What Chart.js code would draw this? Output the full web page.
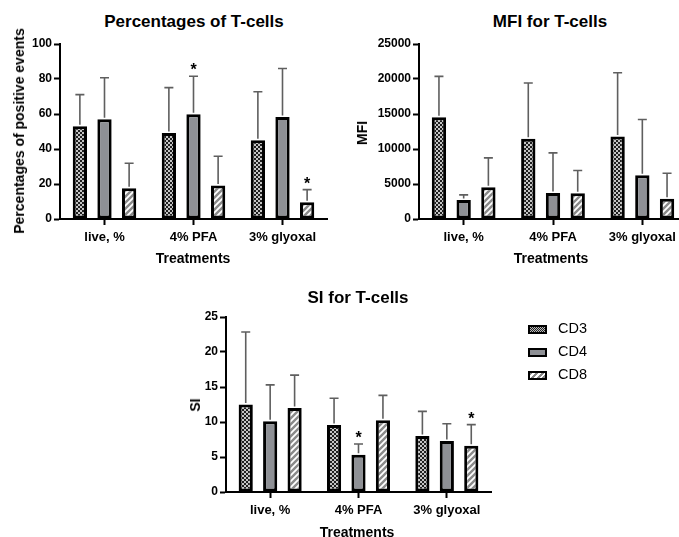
<!DOCTYPE html>
<html>
<head>
<meta charset="utf-8">
<script src="https://cdn.jsdelivr.net/npm/chart.js@4.4.0/dist/chart.umd.min.js"></script>
<style>
  html, body { margin:0; padding:0; background:#fff; width:679px; height:537px; overflow:hidden; }
  body { position:relative; font-family:"Liberation Sans", Arial, sans-serif; }
  .box { position:absolute; }
  .t { position:absolute; transform:translate(-50%,-50%); white-space:nowrap; color:#000; font-weight:bold; }
  .title { font-size:17px; }
  .axt { font-size:14px; }
  .rot { transform:translate(-50%,-50%) rotate(-90deg); }
  .leg { position:absolute; font-size:14.5px; color:#000; white-space:nowrap; }
  .sw { position:absolute; width:19px; height:9px; box-sizing:border-box; border:2px solid #000; }
</style>
</head>
<body>
<div class="box" id="b1" style="left:0px;top:34px;width:335px;height:225px;"><canvas id="c1"></canvas></div>
<div class="box" id="b2" style="left:340px;top:34px;width:347px;height:225px;"><canvas id="c2"></canvas></div>
<div class="box" id="b3" style="left:150px;top:307px;width:349px;height:225px;"><canvas id="c3"></canvas></div>

<div class="t title" style="left:194px;top:22px;">Percentages of T-cells</div>
<div class="t axt rot" style="left:19px;top:131px;">Percentages of positive events</div>
<div class="t axt" style="left:193px;top:258px;">Treatments</div>

<div class="t title" style="left:550px;top:22px;">MFI for T-cells</div>
<div class="t axt rot" style="left:362px;top:133px;">MFI</div>
<div class="t axt" style="left:551px;top:258px;">Treatments</div>

<div class="t title" style="left:358px;top:298px;">SI for T-cells</div>
<div class="t axt rot" style="left:195px;top:405px;">SI</div>
<div class="t axt" style="left:357px;top:532px;">Treatments</div>

<div class="sw" style="left:528px;top:325px;background-color:#222;background-image:repeating-conic-gradient(#222 0 25%, #bbb 0 50%);background-size:2px 2px;"></div>
<div class="leg" style="left:558px;top:320px;">CD3</div>
<div class="sw" style="left:528px;top:348px;background:#8e9095;"></div>
<div class="leg" style="left:558px;top:343px;">CD4</div>
<div class="sw" style="left:528px;top:371px;background:repeating-linear-gradient(135deg,#888 0 2px,#fff 2px 4px);"></div>
<div class="leg" style="left:558px;top:366px;">CD8</div>

<script>
// ---------- data ----------
const categories = ["live, %", "4% PFA", "3% glyoxal"];
const seriesNames = ["CD3", "CD4", "CD8"];

// Percentages of T-cells
const pctCD3 = [53.0, 49.1, 45.0];
const pctCD4 = [57.0, 59.8, 58.3];
const pctCD8 = [17.6, 19.1, 9.6];
const pctCD3sd = [18.1, 26.0, 27.7];
const pctCD4sd = [23.7, 21.8, 27.7];
const pctCD8sd = [14.3, 16.8, 7.2];
const pctCD4star = [false, true, false];
const pctCD8star = [false, false, true];

// MFI for T-cells
const mfiCD3 = [14550, 11450, 11780];
const mfiCD4 = [2720, 3720, 6250];
const mfiCD8 = [4530, 3670, 2910];
const mfiCD3sd = [5820, 7970, 9120];
const mfiCD4sd = [720, 5730, 7970];
const mfiCD8sd = [4200, 3250, 3630];

// SI for T-cells
const siCD3 = [12.5, 9.57, 8.0];
const siCD4 = [10.1, 5.33, 7.29];
const siCD8 = [12.0, 10.24, 6.62];
const siCD3sd = [10.36, 3.83, 3.52];
const siCD4sd = [5.2, 1.53, 2.47];
const siCD8sd = [4.7, 3.57, 3.0];
const siCD4star = [false, true, false];
const siCD8star = [false, false, true];

const noStar = [false, false, false];

// ---------- patterns ----------
function checkPattern() {
  const c = document.createElement('canvas'); c.width = 4; c.height = 4;
  const x = c.getContext('2d');
  x.fillStyle = '#1f1f1f'; x.fillRect(0,0,4,4);
  x.fillStyle = '#c4c4c4'; x.fillRect(0,0,2,2); x.fillRect(2,2,2,2);
  return x.createPattern(c, 'repeat');
}
function stripePattern() {
  const n = 6;
  const c = document.createElement('canvas'); c.width = n; c.height = n;
  const x = c.getContext('2d');
  x.fillStyle = '#ffffff'; x.fillRect(0,0,n,n);
  x.strokeStyle = '#8a8a8a'; x.lineWidth = 2.4;
  x.beginPath();
  x.moveTo(-n, n); x.lineTo(n, -n);
  x.moveTo(0, 2*n); x.lineTo(2*n, 0);
  x.moveTo(0, n); x.lineTo(n, 0);
  x.stroke();
  return x.createPattern(c, 'repeat');
}
const fillCD3 = checkPattern();
const fillCD4 = '#8e9095';
const fillCD8 = stripePattern();

// ---------- error bar + star plugin ----------
const errPlugin = {
  id: 'errbars',
  afterDatasetsDraw(chart) {
    const ctx = chart.ctx;
    const ys = chart.scales.y;
    chart.data.datasets.forEach((ds, i) => {
      const meta = chart.getDatasetMeta(i);
      meta.data.forEach((el, j) => {
        const v = ds.data[j], sd = ds.sd[j];
        const yTop = ys.getPixelForValue(v + sd);
        const yBar = ys.getPixelForValue(v);
        ctx.save();
        ctx.strokeStyle = '#5f5f5f';
        ctx.lineWidth = 1.6;
        ctx.beginPath();
        ctx.moveTo(el.x, yBar - 1.5); ctx.lineTo(el.x, yTop);
        ctx.moveTo(el.x - 4.5, yTop); ctx.lineTo(el.x + 4.5, yTop);
        ctx.stroke();
        if (ds.star && ds.star[j]) {
          ctx.fillStyle = '#000';
          ctx.font = 'bold 16px "Liberation Sans", Arial, sans-serif';
          ctx.textAlign = 'center';
          ctx.textBaseline = 'alphabetic';
          ctx.fillText('*', el.x, yTop - 1);
        }
        ctx.restore();
      });
    });
  }
};

function makeChart(id, d3, d4, d8, s3, s4, s8, st4, st8, yMax, yStep, yWidth, pad) {
  const dsBase = { borderColor: '#000', borderWidth: 3, borderSkipped: false,
                   categoryPercentage: 0.83, barPercentage: 0.58 };
  return new Chart(document.getElementById(id), {
    type: 'bar',
    data: {
      labels: categories,
      datasets: [
        Object.assign({ label: seriesNames[0], data: d3, sd: s3, star: noStar, backgroundColor: fillCD3 }, dsBase),
        Object.assign({ label: seriesNames[1], data: d4, sd: s4, star: st4, backgroundColor: fillCD4 }, dsBase),
        Object.assign({ label: seriesNames[2], data: d8, sd: s8, star: st8, backgroundColor: fillCD8 }, dsBase)
      ]
    },
    options: {
      responsive: true, maintainAspectRatio: false, animation: false,
      devicePixelRatio: 1,
      layout: { padding: pad },
      plugins: { legend: { display: false }, tooltip: { enabled: false }, title: { display: false } },
      scales: {
        x: {
          offset: true,
          grid: { display: true, drawOnChartArea: false, drawTicks: true, tickLength: 6, tickWidth: 2, color: '#000', offset: false },
          border: { display: true, color: '#000', width: 2 },
          ticks: { color: '#000', font: { family: '"Liberation Sans", Arial, sans-serif', size: 13, weight: 'bold' },
                   padding: 5, maxRotation: 0, autoSkip: false },
          afterFit(s) { s.height = 40; }
        },
        y: {
          min: 0, max: yMax,
          grid: { display: true, drawOnChartArea: false, drawTicks: true, tickLength: 6, tickWidth: 2, color: '#000' },
          border: { display: true, color: '#000', width: 2 },
          ticks: { stepSize: yStep, color: '#000', padding: 2,
                   font: { family: '"Liberation Sans", Arial, sans-serif', size: 12, weight: 'bold' },
                   callback: (v) => String(v) },
          afterFit(s) { s.width = yWidth; }
        }
      }
    },
    plugins: [errPlugin]
  });
}

makeChart('c1', pctCD3, pctCD4, pctCD8, pctCD3sd, pctCD4sd, pctCD8sd, pctCD4star, pctCD8star,
          100, 20, 60, { top: 10, right: 8, left: 0, bottom: 0 });
makeChart('c2', mfiCD3, mfiCD4, mfiCD8, mfiCD3sd, mfiCD4sd, mfiCD8sd, noStar, noStar,
          25000, 5000, 79, { top: 10, right: 0, left: 0, bottom: 0 });
makeChart('c3', siCD3, siCD4, siCD8, siCD3sd, siCD4sd, siCD8sd, siCD4star, siCD8star,
          25, 5, 76, { top: 10, right: 8, left: 0, bottom: 0 });
</script>
</body>
</html>
